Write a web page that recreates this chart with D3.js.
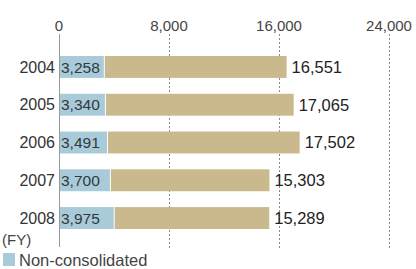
<!DOCTYPE html>
<html>
<head>
<meta charset="utf-8">
<script src="https://cdn.jsdelivr.net/npm/d3@7"></script>
<style>
  body { margin: 0; background: #fff; }
  svg { display: block; font-family: "Liberation Sans", Arial, sans-serif; }
</style>
</head>
<body>
<div id="chart"></div>
<script>
// chart data
const years = ['2004', '2005', '2006', '2007', '2008'];
const nonConsolidated = [3258, 3340, 3491, 3700, 3975];
const consolidated = [16551, 17065, 17502, 15303, 15289];
const tickValues = [0, 8000, 16000, 24000];

const width = 416, height = 269;
const fmt = d3.format(',');

const svg = d3.select('#chart').append('svg')
    .attr('width', width)
    .attr('height', height);

const x = d3.scaleLinear().domain([0, 24000]).range([59, 389]);
const y = d3.scaleBand().domain(years).range([56, 229]).paddingInner(0.42).paddingOuter(0);

// dashed gridlines (not at zero)
svg.selectAll('.grid')
    .data(tickValues.filter(d => d > 0))
    .join('line')
    .attr('class', 'grid')
    .attr('x1', d => Math.round(x(d)) + 0.5)
    .attr('x2', d => Math.round(x(d)) + 0.5)
    .attr('y1', 34)
    .attr('y2', 250)
    .attr('stroke', '#8a8a8a')
    .attr('stroke-width', 1)
    .attr('stroke-dasharray', '2,2');

// tick labels on top
svg.selectAll('.tick-label')
    .data(tickValues)
    .join('text')
    .attr('class', 'tick-label')
    .attr('x', d => x(d))
    .attr('y', 31)
    .attr('text-anchor', 'middle')
    .attr('font-size', 15)
    .attr('fill', '#444')
    .text(d => fmt(d));

const rows = years.map((yr, i) => ({ year: yr, nc: nonConsolidated[i], total: consolidated[i] }));

// total (consolidated) bars
svg.selectAll('.bar-total')
    .data(rows)
    .join('rect')
    .attr('class', 'bar-total')
    .attr('x', d => x(d.nc) + 1)
    .attr('y', d => y(d.year))
    .attr('width', d => x(d.total) - x(d.nc) - 1)
    .attr('height', y.bandwidth())
    .attr('fill', '#c9b98c');

// non-consolidated bars
svg.selectAll('.bar-nc')
    .data(rows)
    .join('rect')
    .attr('class', 'bar-nc')
    .attr('x', x(0))
    .attr('y', d => y(d.year))
    .attr('width', d => x(d.nc) - x(0))
    .attr('height', y.bandwidth())
    .attr('fill', '#a9cad8');

// zero axis line
svg.append('line')
    .attr('x1', x(0) + 0.5)
    .attr('x2', x(0) + 0.5)
    .attr('y1', 34)
    .attr('y2', 247)
    .attr('stroke', '#999')
    .attr('stroke-width', 1);

// year labels
svg.selectAll('.year-label')
    .data(rows)
    .join('text')
    .attr('class', 'year-label')
    .attr('x', 55)
    .attr('y', d => y(d.year) + y.bandwidth() / 2)
    .attr('dy', '0.36em')
    .attr('text-anchor', 'end')
    .attr('font-size', 16)
    .attr('fill', '#333')
    .text(d => d.year);

// values inside blue bars
svg.selectAll('.nc-label')
    .data(rows)
    .join('text')
    .attr('class', 'nc-label')
    .attr('x', x(0) + 2)
    .attr('y', d => y(d.year) + y.bandwidth() / 2)
    .attr('dy', '0.36em')
    .attr('font-size', 15.5)
    .attr('fill', '#2f3a40')
    .text(d => fmt(d.nc));

// totals at the end of bars
svg.selectAll('.total-label')
    .data(rows)
    .join('text')
    .attr('class', 'total-label')
    .attr('x', d => x(d.total) + 5)
    .attr('y', d => y(d.year) + y.bandwidth() / 2)
    .attr('dy', '0.36em')
    .attr('font-size', 16.5)
    .attr('fill', '#222')
    .text(d => fmt(d.total));

svg.append('text')
    .attr('x', 2)
    .attr('y', 245)
    .attr('font-size', 15)
    .attr('fill', '#444')
    .text('(FY)');

// legend
svg.append('rect')
    .attr('x', 3)
    .attr('y', 253)
    .attr('width', 12)
    .attr('height', 13)
    .attr('fill', '#a9cad8');

svg.append('text')
    .attr('x', 19)
    .attr('y', 266)
    .attr('font-size', 16.5)
    .attr('fill', '#444')
    .text('Non-consolidated');
</script>
</body>
</html>
